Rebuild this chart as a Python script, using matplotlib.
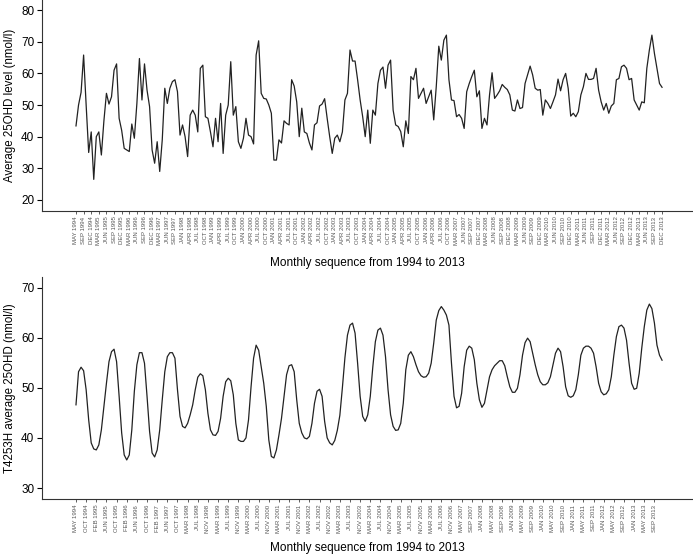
import numpy as np
import matplotlib
matplotlib.use("Agg")
import matplotlib.pyplot as plt

plt.rcParams['font.family'] = ['Liberation Sans', 'DejaVu Sans']

# monthly average 25OHD (raw)
raw_level = [
    43.4, 50.0, 54.0, 65.8, 50.0, 35.0, 41.5, 26.5, 40.0, 41.5,
    34.2, 45.0, 53.7, 50.3, 52.6, 61.0, 63.0, 45.8, 42.0, 36.3,
    35.8, 35.3, 44.0, 39.5, 50.5, 64.7, 51.6, 63.0, 54.7, 49.5,
    35.8, 31.6, 38.4, 29.0, 39.0, 55.3, 50.5, 55.3, 57.4, 58.0,
    54.2, 40.5, 43.7, 40.0, 33.7, 46.8, 48.4, 46.8, 41.5, 61.6,
    62.6, 46.3, 45.8, 41.5, 36.8, 45.8, 38.4, 50.5, 34.7, 46.8,
    50.0, 63.7, 46.8, 49.5, 38.4, 36.3, 39.5, 45.8, 40.5, 40.0,
    37.7, 65.8, 70.3, 53.7, 52.1, 51.9, 50.0, 47.4, 32.6, 32.6,
    39.0, 38.0, 45.0, 44.2, 43.7, 58.0, 56.0, 51.0, 40.0, 49.0,
    41.5, 41.0, 38.0, 35.8, 43.7, 44.4, 49.7, 50.3, 52.0, 45.8,
    40.0, 34.7, 39.5, 40.5, 38.4, 41.5, 51.6, 53.7, 67.4, 63.9,
    63.9, 58.0, 51.6, 46.3, 40.0, 48.4, 37.9, 48.4, 46.8, 56.8,
    61.0, 62.0, 55.3, 62.6, 64.2, 48.4, 43.7, 43.2, 41.6, 36.8,
    45.0, 41.0, 59.0, 58.0, 61.6, 52.1, 53.7, 55.3, 50.5, 52.6,
    54.7, 45.3, 55.8, 68.6, 64.2, 70.5, 72.1, 58.0, 51.6, 51.4,
    46.3, 47.0, 45.8, 42.6, 54.2, 56.8, 59.0, 61.0, 52.6, 54.5,
    42.6, 45.8, 43.7, 53.2, 60.2, 52.1, 53.2, 54.5, 56.5, 55.6,
    54.9, 53.2, 48.4, 48.1, 51.6, 48.9, 49.2, 56.8, 59.5, 62.3,
    59.5, 55.3, 54.7, 54.9, 46.8, 51.6, 50.5, 48.9, 51.0, 53.2,
    58.2, 54.5, 58.0, 60.0, 55.3, 46.5, 47.4, 46.3, 47.9, 53.2,
    55.8, 60.0, 58.1, 58.1, 58.4, 61.6, 54.7, 51.0, 48.4, 50.5,
    47.4, 49.7, 50.5, 58.0, 58.4, 62.1, 62.6, 61.6, 58.0, 58.4,
    51.6, 50.0, 48.4, 51.0, 50.7, 61.6, 67.4, 72.1, 66.3, 61.6,
    56.8, 55.6,
]

# T4253H smoothed series
smooth_level = [
    46.6, 53.2, 54.1, 53.4, 49.6, 43.6, 39.0, 37.8, 37.6, 38.6,
    41.6, 46.3, 50.9, 55.2, 57.2, 57.7, 55.2, 48.3, 41.0, 36.6,
    35.6, 36.6, 41.6, 49.3, 54.6, 57.0, 57.0, 54.9, 48.3, 41.3,
    37.0, 36.2, 37.6, 41.6, 47.6, 53.2, 56.2, 57.0, 57.0, 55.9,
    49.6, 44.3, 42.3, 42.0, 42.9, 44.6, 46.6, 49.6, 52.1, 52.8,
    52.4, 49.6, 44.9, 41.6, 40.6, 40.5, 41.3, 43.9, 48.3, 51.2,
    51.9, 51.4, 48.6, 42.9, 39.6, 39.3, 39.3, 40.0, 43.6, 50.2,
    55.9, 58.5, 57.5, 54.2, 50.9, 46.3, 39.6, 36.3, 36.0, 37.6,
    40.6, 43.9, 48.3, 52.6, 54.4, 54.6, 53.2, 47.6, 42.9, 41.0,
    40.0, 39.8, 40.3, 42.9, 46.9, 49.3, 49.7, 48.3, 43.3, 40.0,
    39.0, 38.6, 39.5, 41.5, 44.5, 50.0, 56.0, 60.5, 62.5, 62.9,
    60.9, 54.9, 48.3, 44.3, 43.3, 44.6, 48.3, 54.2, 59.2, 61.5,
    61.9, 60.5, 56.2, 49.6, 44.6, 42.3, 41.5, 41.6, 42.9, 46.9,
    53.6, 56.5, 57.2, 56.2, 54.6, 53.2, 52.4, 52.1, 52.2, 52.9,
    54.9, 58.9, 63.5, 65.4, 66.2, 65.5, 64.5, 62.5, 54.9, 48.3,
    46.0, 46.3, 48.9, 54.2, 57.5, 58.3, 57.9, 55.6, 50.9, 47.6,
    46.1, 46.9, 49.6, 52.2, 53.6, 54.4, 54.9, 55.4, 55.4, 54.4,
    52.2, 50.2, 49.1, 49.1, 49.9, 52.6, 56.5, 59.0, 59.9, 59.2,
    56.9, 54.6, 52.6, 51.2, 50.6, 50.6, 51.0, 52.2, 54.6, 56.9,
    57.9, 57.2, 54.2, 50.2, 48.4, 48.1, 48.4, 49.6, 52.6, 56.5,
    57.9, 58.3, 58.3, 57.9, 56.9, 54.2, 50.9, 49.2, 48.6, 48.8,
    49.6, 52.2, 56.5, 60.2, 62.2, 62.5, 61.9, 59.5, 54.9, 50.9,
    49.7, 49.9, 52.9, 57.9, 62.2, 65.5, 66.7, 65.8, 62.9, 58.5,
    56.5, 55.5,
]

top_labels = [
    "MAY 1994", "SEP 1994", "DEC 1994", "MAR 1995", "JUN 1995", "SEP 1995",
    "DEC 1995", "MAR 1996", "JUN 1996", "SEP 1996", "DEC 1996", "MAR 1997",
    "JUN 1997", "SEP 1997", "JAN 1998", "APR 1998", "JUL 1998", "OCT 1998",
    "JAN 1999", "APR 1999", "JUL 1999", "OCT 1999", "JAN 2000", "APR 2000",
    "JUL 2000", "OCT 2000", "JAN 2001", "APR 2001", "JUL 2001", "OCT 2001",
    "JAN 2002", "APR 2002", "JUL 2002", "OCT 2002", "JAN 2003", "APR 2003",
    "JUL 2003", "OCT 2003", "JAN 2004", "APR 2004", "JUL 2004", "OCT 2004",
    "JAN 2005", "APR 2005", "JUL 2005", "OCT 2005", "JAN 2006", "APR 2006",
    "JUL 2006", "OCT 2006", "MAR 2007", "JUN 2007", "SEP 2007", "DEC 2007",
    "MAR 2008", "JUN 2008", "SEP 2008", "DEC 2008", "MAR 2009", "JUN 2009",
    "SEP 2009", "DEC 2009", "MAR 2010", "JUN 2010", "SEP 2010", "DEC 2010",
    "MAR 2011", "JUN 2011", "SEP 2011", "DEC 2011", "MAR 2012", "JUN 2012",
    "SEP 2012", "DEC 2012", "MAR 2013", "JUN 2013", "SEP 2013", "DEC 2013",
]

bottom_labels = [
    "MAY 1994", "OCT 1994", "FEB 1995", "JUN 1995", "OCT 1995", "FEB 1996",
    "JUN 1996", "OCT 1996", "FEB 1997", "JUN 1997", "OCT 1997", "MAR 1998",
    "JUL 1998", "NOV 1998", "MAR 1999", "JUL 1999", "NOV 1999", "MAR 2000",
    "JUL 2000", "NOV 2000", "MAR 2001", "JUL 2001", "NOV 2001", "MAR 2002",
    "JUL 2002", "NOV 2002", "MAR 2003", "JUL 2003", "NOV 2003", "MAR 2004",
    "JUL 2004", "NOV 2004", "MAR 2005", "JUL 2005", "NOV 2005", "MAR 2006",
    "JUL 2006", "NOV 2006", "MAY 2007", "SEP 2007", "JAN 2008", "MAY 2008",
    "SEP 2008", "JAN 2009", "MAY 2009", "SEP 2009", "JAN 2010", "MAY 2010",
    "SEP 2010", "JAN 2011", "MAY 2011", "SEP 2011", "JAN 2012", "MAY 2012",
    "SEP 2012", "JAN 2013", "MAY 2013", "SEP 2013",
]

W, H = 693, 559
fig = plt.figure(figsize=(W / 100, H / 100), dpi=100)

def style(ax, labels, step, ylim, yticks):
    x = np.arange(len(raw_level))
    ax.set_xlim(-13.4, 243.2)
    ax.set_ylim(*ylim)
    ax.set_yticks(yticks)
    ax.set_xticks(x[::step][:len(labels)])
    ax.set_xticklabels(labels, rotation=90, fontsize=4.3, color='#555555')
    ax.tick_params(axis='x', length=2.5, width=0.6, pad=1.5, color='#444444')
    ax.tick_params(axis='y', length=3.5, width=0.8, labelsize=8.5, pad=2)
    for s in ['top', 'right']:
        ax.spines[s].set_visible(False)
    for s in ['left', 'bottom']:
        ax.spines[s].set_linewidth(0.8)
        ax.spines[s].set_color('#333333')

# top panel
ax1 = fig.add_axes([42 / W, 1 - 211 / H, 1 - 42 / W, 211 / H])
ax1.plot(np.arange(len(raw_level)), raw_level, color='#222222', lw=0.9)
style(ax1, top_labels, 3, (16.5, 83.2), [20, 30, 40, 50, 60, 70, 80])
ax1.set_ylabel("Average 25OHD level (nmol/l)", fontsize=8.3, labelpad=4)
fig.text(367.5 / W, 1 - 263 / H, "Monthly sequence from 1994 to 2013",
         ha='center', va='center', fontsize=8.5)

# bottom panel
ax2 = fig.add_axes([42 / W, 1 - 499.3 / H, 1 - 42 / W, (499.3 - 277) / H])
ax2.plot(np.arange(len(smooth_level)), smooth_level, color='#222222', lw=0.9)
style(ax2, bottom_labels, 4, (27.75, 72.1), [30, 40, 50, 60, 70])
ax2.set_ylabel("T4253H average 25OHD (nmol/l)", fontsize=8.3, labelpad=4)
fig.text(367.5 / W, 1 - 548 / H, "Monthly sequence from 1994 to 2013",
         ha='center', va='center', fontsize=8.5)

fig.savefig("out.png", dpi=100)
